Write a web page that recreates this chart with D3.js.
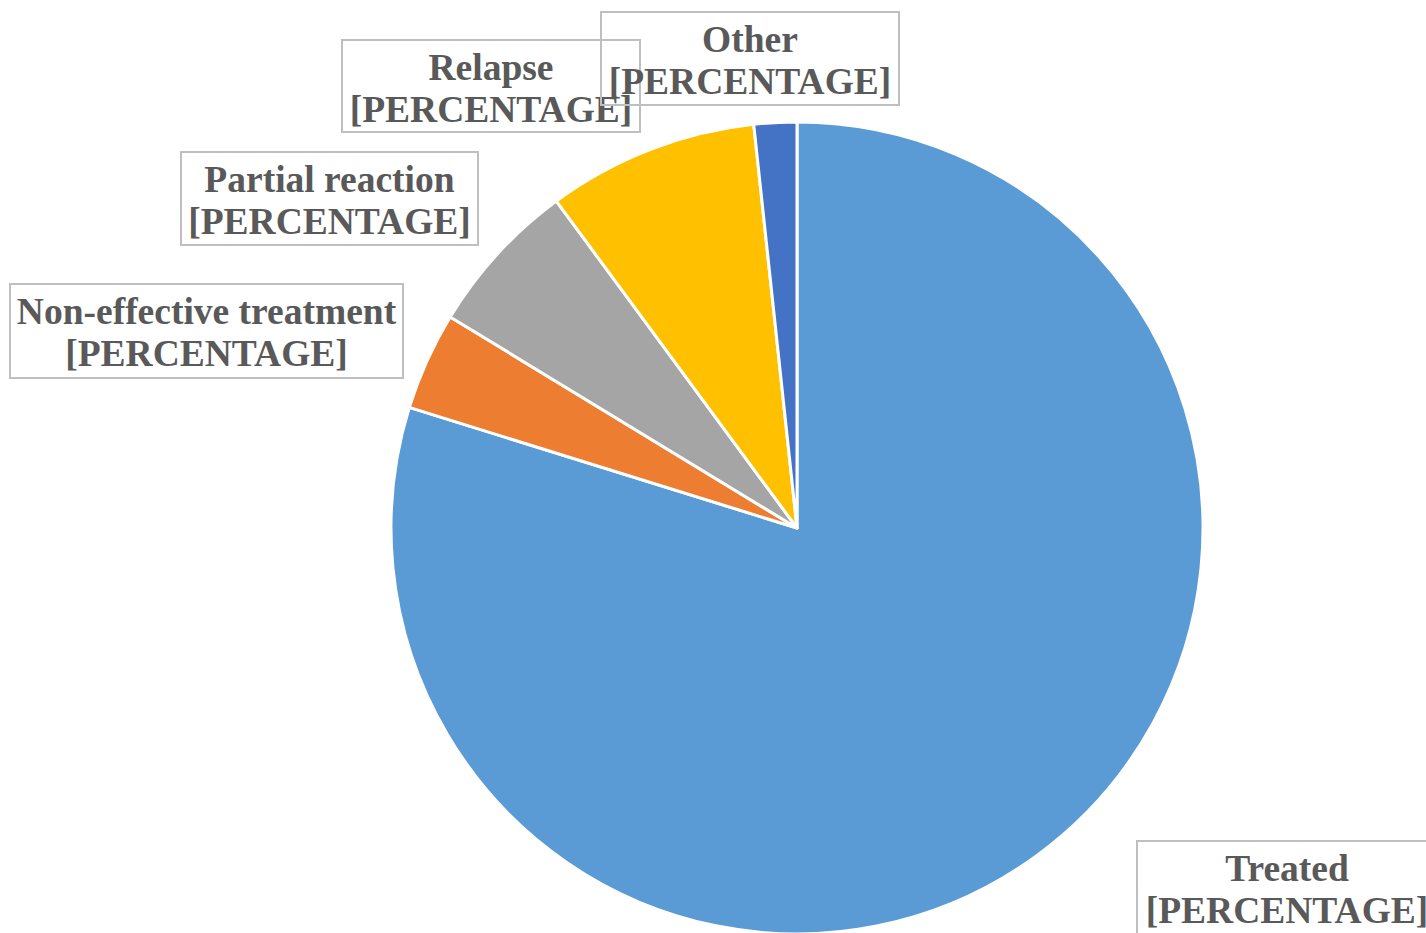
<!DOCTYPE html>
<html>
<head>
<meta charset="utf-8">
<script src="https://cdn.jsdelivr.net/npm/d3@7"></script>
<style>
  body { margin: 0; background: #fff; }
  svg { display: block; }
</style>
</head>
<body>
<svg id="chart" width="1426" height="933"></svg>
<script>
// slice order is clockwise from 12 o'clock
const categories = ["Treated", "Non-effective treatment", "Partial reaction", "Relapse", "Other"];
const values = [79.8, 3.9, 6.2, 8.4, 1.7];
const colors = ["#5B9BD5", "#ED7D31", "#A5A5A5", "#FFC000", "#4472C4"];
const valueLabel = "[PERCENTAGE]";

// label box placement (top-left corner, width, height)
const boxes = [
    {x: 1137, y: 841, w: 300, h: 93},
    {x: 10, y: 284, w: 393, h: 94},
    {x: 181, y: 152, w: 297, h: 93},
    {x: 342, y: 40, w: 298, h: 92},
    {x: 601, y: 12, w: 298, h: 93}
];

var svg = d3.select("#chart");
const cx = 797, cy = 528, radius = 406;

const pie = d3.pie().sort(null).value(d => d);
const arc = d3.arc().innerRadius(0).outerRadius(radius);

const g = svg.append("g").attr("transform", "translate(" + cx + "," + cy + ")");

g.selectAll(".slice")
    .data(pie(values))
    .enter()
    .append("path")
    .attr("class", "slice")
    .attr("d", arc)
    .style("fill", (d, i) => colors[i])
    .style("stroke", "#fff")
    .style("stroke-width", 3)
    .style("stroke-linejoin", "round");

// data labels
const labels = svg.selectAll(".lbl")
    .data(categories)
    .enter()
    .append("g")
    .attr("class", "lbl");

labels.append("rect")
    .attr("x", (d, i) => boxes[i].x)
    .attr("y", (d, i) => boxes[i].y)
    .attr("width", (d, i) => boxes[i].w)
    .attr("height", (d, i) => boxes[i].h)
    .style("fill", "none")
    .style("stroke", "#BFBFBF")
    .style("stroke-width", 2);

const txt = labels.append("text")
    .attr("text-anchor", "middle")
    .style("font-family", "'Liberation Serif', 'Times New Roman', serif")
    .style("font-weight", "bold")
    .style("font-size", "37.5px")
    .style("fill", "#595959");

txt.append("tspan")
    .attr("x", (d, i) => boxes[i].x + boxes[i].w / 2)
    .attr("y", (d, i) => boxes[i].y + 40)
    .text(d => d);

txt.append("tspan")
    .attr("x", (d, i) => boxes[i].x + boxes[i].w / 2)
    .attr("y", (d, i) => boxes[i].y + 82)
    .text(valueLabel);
</script>
</body>
</html>
